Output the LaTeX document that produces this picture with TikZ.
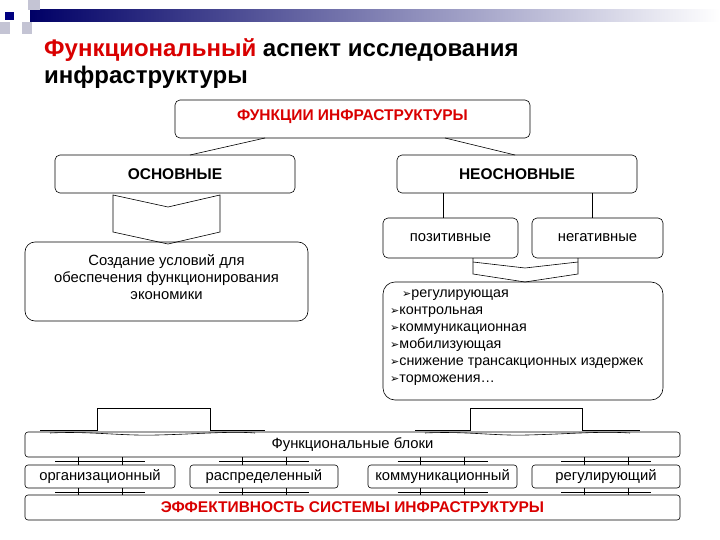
\documentclass[tikz,border=0pt]{standalone}
\usepackage{fontspec}
\setmainfont{Liberation Sans}
\newfontfamily\djv{DejaVu Sans}
\newcommand{\arr}{{\djv\fontsize{11}{11}\selectfont ➢}}
\begin{document}
\begin{tikzpicture}[x=1pt,y=-1pt,
 box/.style={draw,rounded corners=5pt,line width=0.6pt,inner sep=0pt},
 lbl/.style={font=\fontsize{14.8}{17}\selectfont},
 ln/.style={line width=0.6pt}]
\useasboundingbox (0,0) rectangle (720,540);
\fill[white] (0,0) rectangle (720,540);
% header decoration
\shade[left color=blue!40!black, right color=white] (30,10) rectangle (720,22);
\fill[blue!15!gray!40] (28,0) rectangle (40,10);
\fill[blue!15!gray!40] (0,22) rectangle (10,34);
\fill[blue!15!gray!40] (22,22) rectangle (32,34);
\fill[blue!50!black] (5,12) rectangle (14,20);
% title
\node[anchor=west,inner sep=0pt,font=\bfseries\fontsize{24}{28}\selectfont] (t1) at (44,50) {\textcolor{red!85!black}{Функциональный} аспект исследования};
\node[anchor=west,inner sep=0pt,font=\bfseries\fontsize{24}{28}\selectfont] (t2) at (44,77) {инфраструктуры};
% boxes
\node[box,minimum width=355,minimum height=38] (top) at (352.5,119) {};
\node[font=\bfseries\fontsize{15.5}{17}\selectfont,text=red!85!black] (topt) at (352.5,117) {ФУНКЦИИ ИНФРАСТРУКТУРЫ};
\node[box,minimum width=240,minimum height=38,font=\bfseries\fontsize{15.5}{17}\selectfont] (osn) at (175,174) {ОСНОВНЫЕ};
\node[box,minimum width=240,minimum height=38,font=\bfseries\fontsize{15.5}{17}\selectfont] (neosn) at (517,174) {НЕОСНОВНЫЕ};
\coordinate (a1) at (265,138); \coordinate (a2) at (445,138);
\coordinate (b1) at (190,155); \coordinate (b2) at (515,155);
\draw[ln] (a1) -- (b1); \draw[ln] (a2) -- (b2);
% chevron under osn
\draw[ln] (113,195) -- (168,207) -- (220,195) -- (220,232) -- (168,244) -- (113,232) -- cycle;
\node[box,rounded corners=10pt,minimum width=283,minimum height=79] (sozd) at (166.5,281.5) {};
\node[lbl,align=center] (sozdt) at (166.5,277) {Создание условий для\\обеспечения функционирования\\экономики};
\node[box,minimum width=135,minimum height=40,lbl] (poz) at (450.5,238) {позитивные};
\node[box,minimum width=131,minimum height=40,lbl] (neg) at (597.5,238) {негативные};
\draw[ln] (443,193) -- (443,218);
\draw[ln] (592,193) -- (592,218);
\draw[ln] (473,258) -- (473,274) -- (525,282) -- (578,274) -- (578,258);
\draw[ln] (473,262) -- (525,268) -- (578,262);
\node[box,rounded corners=12pt,minimum width=280,minimum height=118] (list) at (523,341) {};
\node[anchor=north west,inner sep=0pt,align=left,font=\fontsize{14.3}{17}\selectfont] (listt) at (390,290)
 {\hspace*{12pt}\arr регулирующая\\\arr контрольная\\\arr коммуникационная\\\arr мобилизующая\\\arr снижение трансакционных издержек\\\arr торможения\ldots};
% brackets
\draw[ln] (40,430) -- (97,430) -- (97,408) -- (210,408) -- (210,430) -- (265,430);
\draw[ln] (50,433) .. controls (90,431) and (120,436) .. (157,435) .. controls (200,434) and (230,431) .. (255,433);
\draw[ln] (415,430) -- (470,430) -- (470,408) -- (582,408) -- (582,430) -- (640,430);
\draw[ln] (425,433) .. controls (465,431) and (495,436) .. (527,435) .. controls (570,434) and (600,431) .. (630,433);
\node[box,rounded corners=3pt,minimum width=655,minimum height=25,lbl] (fb) at (352.5,444.5) {Функциональные блоки};
\node[box,rounded corners=3pt,minimum width=150,minimum height=23,lbl] (b1x) at (100,476.5) {организационный};
\node[box,rounded corners=3pt,minimum width=148,minimum height=23,lbl] (b2x) at (264,476.5) {распределенный};
\node[box,rounded corners=3pt,minimum width=149,minimum height=23,lbl] (b3x) at (442.5,476.5) {коммуникационный};
\node[box,rounded corners=3pt,minimum width=148,minimum height=23,lbl] (b4x) at (606,476.5) {регулирующий};
\node[box,rounded corners=3pt,minimum width=655,minimum height=25,font=\bfseries\fontsize{15.5}{17}\selectfont,text=red!85!black] (eff) at (352.5,507.5) {ЭФФЕКТИВНОСТЬ СИСТЕМЫ ИНФРАСТРУКТУРЫ};
\foreach \c in {100,264,442.5,606}{
 \draw[ln] (\c-22,457) -- (\c-22,465) (\c+22,457) -- (\c+22,465);
 \draw[ln] (\c-45,461) -- (\c+45,461);
 \draw[ln] (\c-22,488) -- (\c-22,495) (\c+22,488) -- (\c+22,495);
 \draw[ln] (\c-45,492) -- (\c+45,492);
}
\end{tikzpicture}
\end{document}
